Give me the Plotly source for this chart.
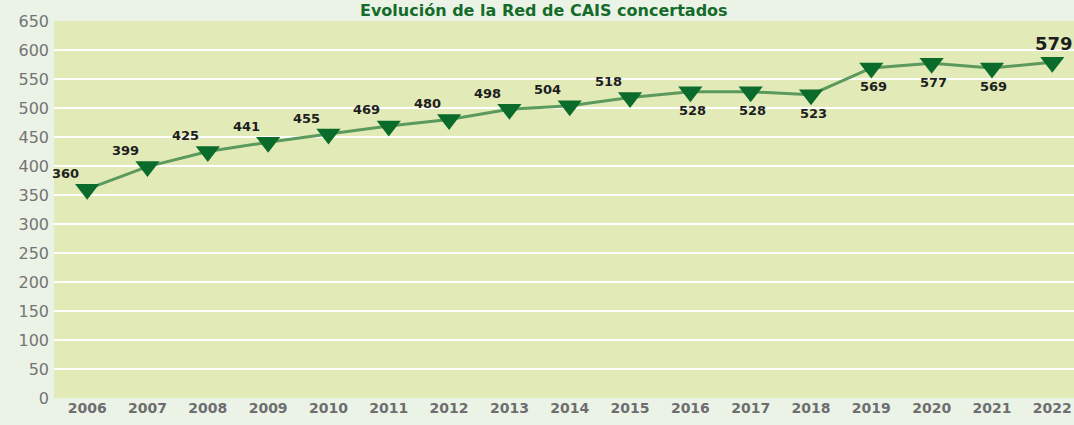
import plotly.graph_objects as go

years = [2006, 2007, 2008, 2009, 2010, 2011, 2012, 2013, 2014, 2015,
         2016, 2017, 2018, 2019, 2020, 2021, 2022]
values = [360, 399, 425, 441, 455, 469, 480, 498, 504, 518,
          528, 528, 523, 569, 577, 569, 579]
title_text = "Evolución de la Red de CAIS concertados"
y_ticks = list(range(0, 651, 50))

fig = go.Figure()
fig.add_trace(go.Scatter(
    x=years, y=values, mode="lines",
    line=dict(color="#5b9a5c", width=3),
    hoverinfo="skip", showlegend=False,
))
fig.add_trace(go.Scatter(
    x=years, y=values, mode="markers",
    marker=dict(symbol="triangle-down", size=21, color="#0b6b2b",
                line=dict(width=0)),
    showlegend=False,
))

annotations = []
for i, (yr, v) in enumerate(zip(years, values)):
    if i < 10:
        xs, ys, sz = -22, 16, 13
    elif i < 16:
        xs, ys, sz = 2, -19, 13
    else:
        xs, ys, sz = 2, 19, 18
    annotations.append(dict(
        x=yr, y=v, xref="x", yref="y", text=str(v), showarrow=False,
        xshift=xs, yshift=ys,
        font=dict(family="DejaVu Sans", size=sz, color="#1e1e1e", weight="bold"),
    ))
annotations.append(dict(
    x=0.48, y=1, xref="paper", yref="paper", text=title_text,
    showarrow=False, yanchor="middle", yshift=11,
    font=dict(family="DejaVu Sans", size=16, color="#146b2a", weight="bold"),
))

fig.update_layout(
    width=1074, height=425,
    margin=dict(l=54, r=0, t=21, b=27),
    paper_bgcolor="#ebf3e6",
    plot_bgcolor="#e2ebb8",
    annotations=annotations,
    xaxis=dict(
        range=[2005.45, 2022.36], tickmode="array", tickvals=years,
        ticktext=[str(y) for y in years], showgrid=False, zeroline=False,
        showline=False, ticks="", automargin=False,
        tickfont=dict(family="DejaVu Sans", size=14, color="#6e6e70", weight="bold"),
    ),
    yaxis=dict(
        range=[0, 650], tickmode="array", tickvals=y_ticks,
        showgrid=True, gridcolor="#ffffff", gridwidth=1.5, zeroline=False,
        showline=False, ticks="", ticklabelstandoff=4, automargin=False,
        tickfont=dict(family="DejaVu Sans", size=16, color="#747476"),
    ),
)

fig.write_html("out.html", config={"displayModeBar": False},
               post_script="document.body.style.margin='0px';")
